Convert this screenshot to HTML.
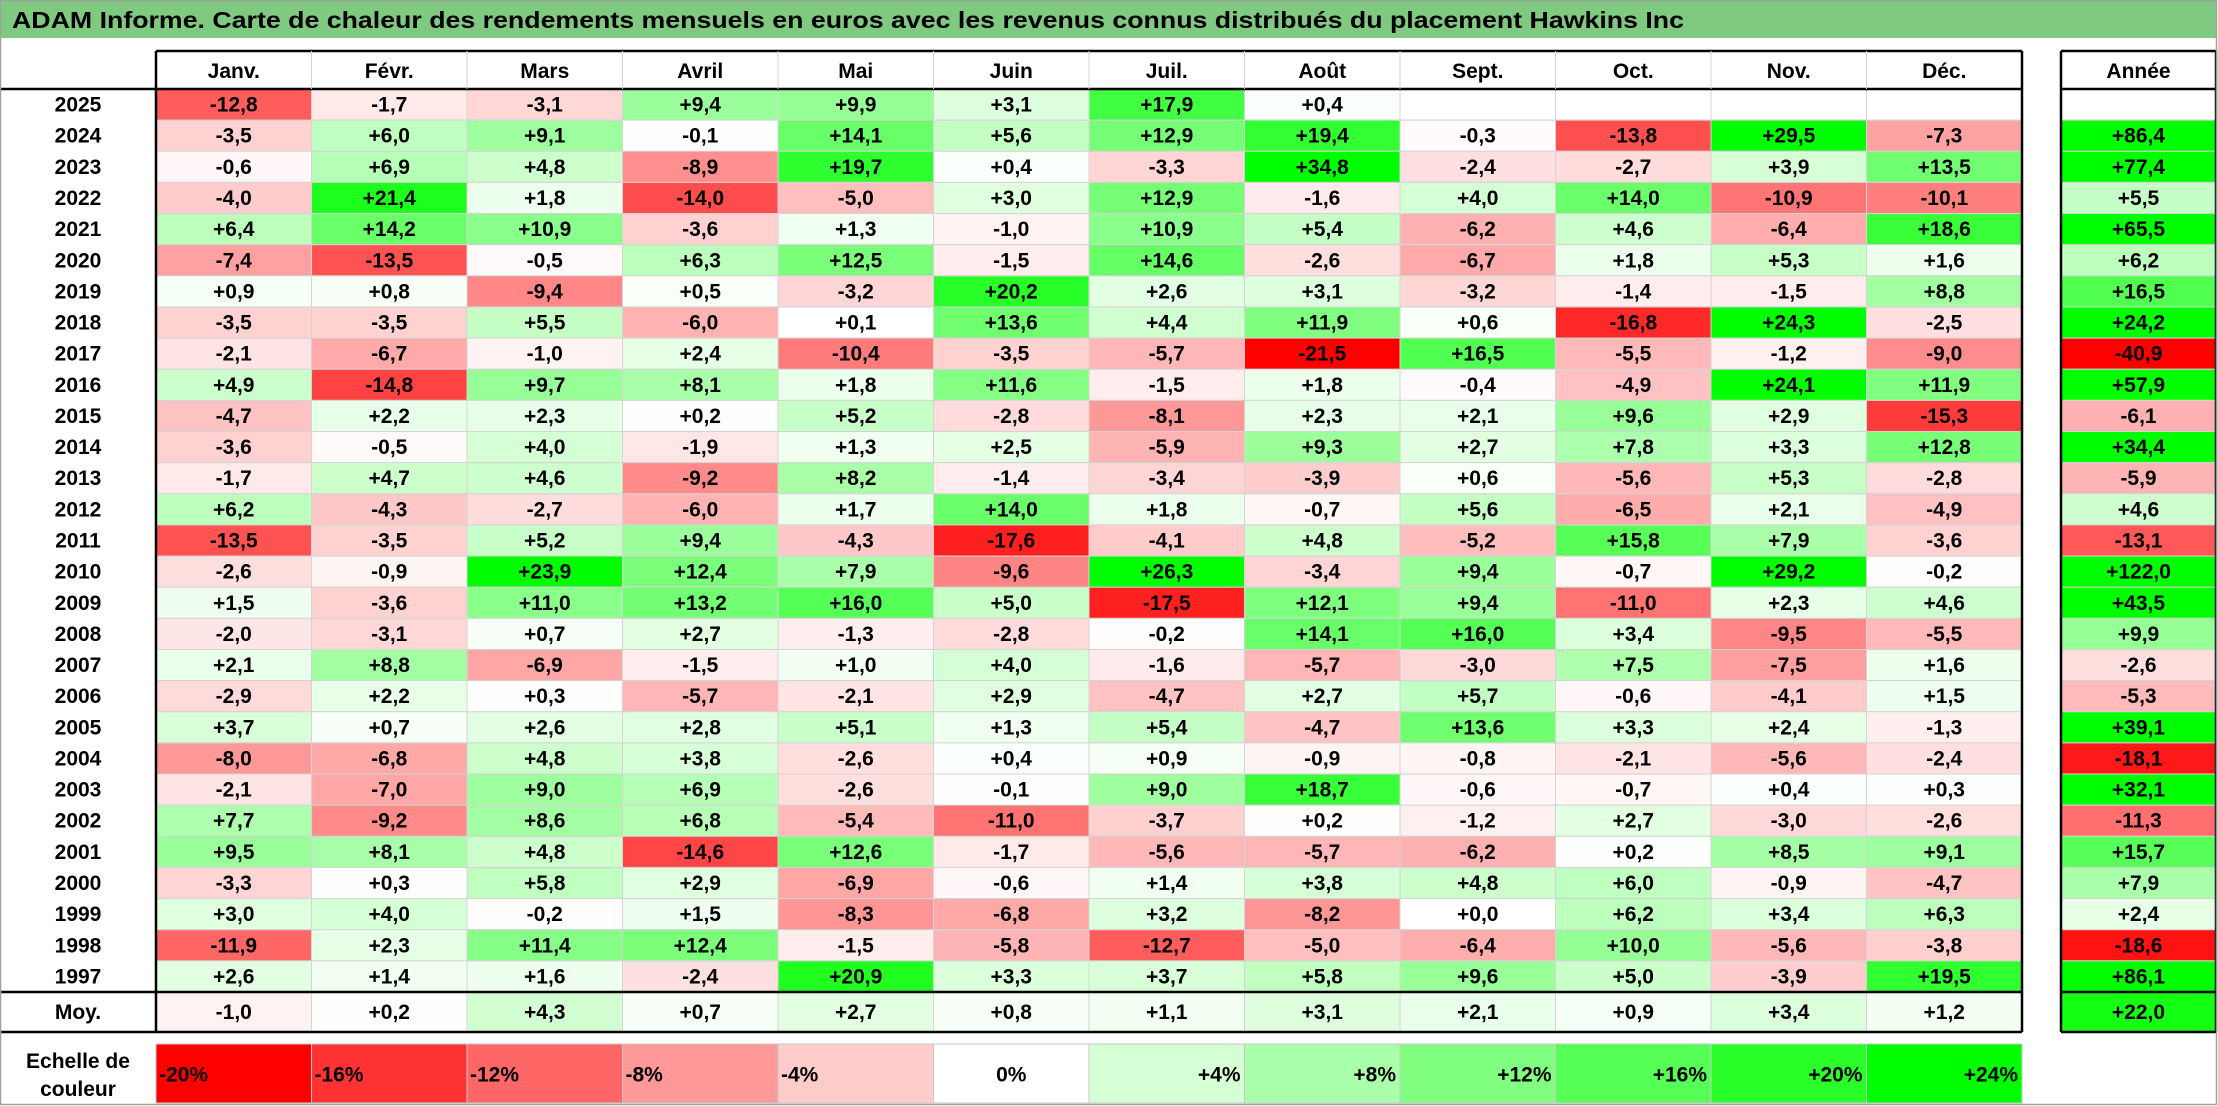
<!DOCTYPE html>
<html><head><meta charset="utf-8">
<style>
html,body{margin:0;padding:0;background:#fff;}
svg{display:block;}
text{font-family:"Liberation Sans",Arial,sans-serif;font-weight:bold;fill:#000;}
</style></head>
<body>
<svg id="chart" width="2218" height="1106" viewBox="0 0 2218 1106" xmlns="http://www.w3.org/2000/svg">
<rect x="0" y="0" width="2218" height="1106" fill="#fff"/>
<rect x="1" y="1" width="2215" height="37" fill="#80c980"/>
<text x="12" y="28" font-size="23" textLength="1672" lengthAdjust="spacingAndGlyphs">ADAM Informe. Carte de chaleur des rendements mensuels en euros avec les revenus connus distribués du placement Hawkins Inc</text>
<g id="cells"></g>
<g id="lines"></g>
<rect x="0.5" y="0.5" width="2216" height="1104" fill="none" stroke="#a0a0a0" stroke-width="1.5"/>
</svg>
<script>
const months = ["Janv.","Févr.","Mars","Avril","Mai","Juin","Juil.","Août","Sept.","Oct.","Nov.","Déc."];
const years = ["2025","2024","2023","2022","2021","2020","2019","2018","2017","2016","2015","2014","2013","2012","2011","2010","2009","2008","2007","2006","2005","2004","2003","2002","2001","2000","1999","1998","1997"];
const v2025 = [-12.8,-1.7,-3.1,9.4,9.9,3.1,17.9,0.4,null,null,null,null];
const v2024 = [-3.5,6.0,9.1,-0.1,14.1,5.6,12.9,19.4,-0.3,-13.8,29.5,-7.3];
const v2023 = [-0.6,6.9,4.8,-8.9,19.7,0.4,-3.3,34.8,-2.4,-2.7,3.9,13.5];
const v2022 = [-4.0,21.4,1.8,-14.0,-5.0,3.0,12.9,-1.6,4.0,14.0,-10.9,-10.1];
const v2021 = [6.4,14.2,10.9,-3.6,1.3,-1.0,10.9,5.4,-6.2,4.6,-6.4,18.6];
const v2020 = [-7.4,-13.5,-0.5,6.3,12.5,-1.5,14.6,-2.6,-6.7,1.8,5.3,1.6];
const v2019 = [0.9,0.8,-9.4,0.5,-3.2,20.2,2.6,3.1,-3.2,-1.4,-1.5,8.8];
const v2018 = [-3.5,-3.5,5.5,-6.0,0.1,13.6,4.4,11.9,0.6,-16.8,24.3,-2.5];
const v2017 = [-2.1,-6.7,-1.0,2.4,-10.4,-3.5,-5.7,-21.5,16.5,-5.5,-1.2,-9.0];
const v2016 = [4.9,-14.8,9.7,8.1,1.8,11.6,-1.5,1.8,-0.4,-4.9,24.1,11.9];
const v2015 = [-4.7,2.2,2.3,0.2,5.2,-2.8,-8.1,2.3,2.1,9.6,2.9,-15.3];
const v2014 = [-3.6,-0.5,4.0,-1.9,1.3,2.5,-5.9,9.3,2.7,7.8,3.3,12.8];
const v2013 = [-1.7,4.7,4.6,-9.2,8.2,-1.4,-3.4,-3.9,0.6,-5.6,5.3,-2.8];
const v2012 = [6.2,-4.3,-2.7,-6.0,1.7,14.0,1.8,-0.7,5.6,-6.5,2.1,-4.9];
const v2011 = [-13.5,-3.5,5.2,9.4,-4.3,-17.6,-4.1,4.8,-5.2,15.8,7.9,-3.6];
const v2010 = [-2.6,-0.9,23.9,12.4,7.9,-9.6,26.3,-3.4,9.4,-0.7,29.2,-0.2];
const v2009 = [1.5,-3.6,11.0,13.2,16.0,5.0,-17.5,12.1,9.4,-11.0,2.3,4.6];
const v2008 = [-2.0,-3.1,0.7,2.7,-1.3,-2.8,-0.2,14.1,16.0,3.4,-9.5,-5.5];
const v2007 = [2.1,8.8,-6.9,-1.5,1.0,4.0,-1.6,-5.7,-3.0,7.5,-7.5,1.6];
const v2006 = [-2.9,2.2,0.3,-5.7,-2.1,2.9,-4.7,2.7,5.7,-0.6,-4.1,1.5];
const v2005 = [3.7,0.7,2.6,2.8,5.1,1.3,5.4,-4.7,13.6,3.3,2.4,-1.3];
const v2004 = [-8.0,-6.8,4.8,3.8,-2.6,0.4,0.9,-0.9,-0.8,-2.1,-5.6,-2.4];
const v2003 = [-2.1,-7.0,9.0,6.9,-2.6,-0.1,9.0,18.7,-0.6,-0.7,0.4,0.3];
const v2002 = [7.7,-9.2,8.6,6.8,-5.4,-11.0,-3.7,0.2,-1.2,2.7,-3.0,-2.6];
const v2001 = [9.5,8.1,4.8,-14.6,12.6,-1.7,-5.6,-5.7,-6.2,0.2,8.5,9.1];
const v2000 = [-3.3,0.3,5.8,2.9,-6.9,-0.6,1.4,3.8,4.8,6.0,-0.9,-4.7];
const v1999 = [3.0,4.0,-0.2,1.5,-8.3,-6.8,3.2,-8.2,0.0,6.2,3.4,6.3];
const v1998 = [-11.9,2.3,11.4,12.4,-1.5,-5.8,-12.7,-5.0,-6.4,10.0,-5.6,-3.8];
const v1997 = [2.6,1.4,1.6,-2.4,20.9,3.3,3.7,5.8,9.6,5.0,-3.9,19.5];
const yearTotals = [null,86.4,77.4,5.5,65.5,6.2,16.5,24.2,-40.9,57.9,-6.1,34.4,-5.9,4.6,-13.1,122.0,43.5,9.9,-2.6,-5.3,39.1,-18.1,32.1,-11.3,15.7,7.9,2.4,-18.6,86.1];
const avgValues = [-1.0,0.2,4.3,0.7,2.7,0.8,1.1,3.1,2.1,0.9,3.4,1.2];
const avgTotal = 22.0;
const scaleValues = [-20,-16,-12,-8,-4,0,4,8,12,16,20,24];
const monthRows = [v2025,v2024,v2023,v2022,v2021,v2020,v2019,v2018,v2017,v2016,v2015,v2014,v2013,v2012,v2011,v2010,v2009,v2008,v2007,v2006,v2005,v2004,v2003,v2002,v2001,v2000,v1999,v1998,v1997];

const NS="http://www.w3.org/2000/svg";
const cells=document.getElementById('cells');
const lines=document.getElementById('lines');
const X0=156, CW=(2022-156)/12, YX=2061, YW=155;
const HY=51, RY=89, RH=(992-89)/29, MY=992, MH=40, SY=1044, SH=59;
const FS=21;
function colX(i){return X0+i*CW;}
function rowY(r){return RY+r*RH;}
function color(v){
  if(v===null) return '#ffffff';
  if(v<0){const t=Math.min(1,-v/20);const c=Math.round(255*(1-t));return `rgb(255,${c},${c})`;}
  const t=Math.min(1,v/24);const c=Math.round(255*(1-t));return `rgb(${c},255,${c})`;
}
function fmt(v){const s=Math.abs(v).toFixed(1).replace('.',',');return (v<0||Object.is(v,-0)?'-':'+')+s;}
function rect(x,y,w,h,fill,name,stroke){
  const r=document.createElementNS(NS,'rect');
  r.setAttribute('x',x);r.setAttribute('y',y);r.setAttribute('width',w);r.setAttribute('height',h);
  r.setAttribute('fill',fill);
  if(stroke){r.setAttribute('stroke',stroke);r.setAttribute('stroke-width','1');}
  
  
  cells.appendChild(r);return r;
}
function text(x,y,s,name,anchor,size){
  const t=document.createElementNS(NS,'text');
  t.setAttribute('x',x);t.setAttribute('y',y);t.setAttribute('font-size',size||FS);
  t.setAttribute('text-anchor',anchor||'middle');t.textContent=s;
  
  
  cells.appendChild(t);return t;
}
function line(x1,y1,x2,y2,col,w){
  const l=document.createElementNS(NS,'line');
  l.setAttribute('x1',x1);l.setAttribute('y1',y1);l.setAttribute('x2',x2);l.setAttribute('y2',y2);
  l.setAttribute('stroke',col);l.setAttribute('stroke-width',w);
  lines.appendChild(l);
}
// headers
months.forEach((m,i)=>{text(colX(i)+CW/2,HY+27,m,'month-header-'+(i+1));});
text(YX+YW/2,HY+27,'Année','year-total-header');
// data rows
monthRows.forEach((row,r)=>{
  const y=rowY(r);
  text(X0/2,y+RH/2+7,years[r],'year-label-'+years[r]);
  row.forEach((v,i)=>{
    rect(colX(i),y,CW,RH,color(v),'cell-'+years[r]+'-'+(i+1),'#d4d4d4');
    if(v!==null) text(colX(i)+CW/2,y+RH/2+7,fmt(v),'cell-value-'+years[r]+'-'+(i+1));
  });
  const tv=yearTotals[r];
  rect(YX,y,YW,RH,color(tv),'year-total-'+years[r],'#d4d4d4');
  if(tv!==null) text(YX+YW/2,y+RH/2+7,fmt(tv),'year-total-value-'+years[r]);
});
// averages
text(X0/2,MY+MH/2+7,'Moy.','average-label');
avgValues.forEach((v,i)=>{
  rect(colX(i),MY,CW,MH,color(v),'average-cell-'+(i+1),'#d4d4d4');
  text(colX(i)+CW/2,MY+MH/2+7,fmt(v),'average-value-'+(i+1));
});
rect(YX,MY,YW,MH,color(avgTotal),'average-year-total','#d4d4d4');
text(YX+YW/2,MY+MH/2+7,fmt(avgTotal),'average-year-total-value');
// scale
text(X0/2,SY+24,'Echelle de','color-scale-label-line1');
text(X0/2,SY+52,'couleur','color-scale-label-line2');
scaleValues.forEach((v,i)=>{
  rect(colX(i),SY,CW,SH,color(v),'color-scale-cell-'+(i+1),'#c8c8c8');
  const lab=(v>0?'+':'')+v+'%';
  if(v<0) text(colX(i)+3,SY+SH/2+8,lab,'color-scale-value-'+(i+1),'start');
  else if(v===0) text(colX(i)+CW/2,SY+SH/2+8,lab,'color-scale-value-'+(i+1),'middle');
  else text(colX(i)+CW-4,SY+SH/2+8,lab,'color-scale-value-'+(i+1),'end');
});
// borders
const B='#000', BW=2.5;
line(X0,HY,2022,HY,B,BW);
line(X0,HY,X0,MY+MH,B,BW);
line(2022,HY,2022,MY+MH,B,BW);
line(0,RY,2022,RY,B,BW);
line(0,MY,2022,MY,B,BW);
line(0,MY+MH,2022,MY+MH,B,BW);
for(let i=1;i<12;i++) line(colX(i),HY,colX(i),RY,'#d4d4d4',1);
line(YX,HY,YX,MY+MH,B,BW);
line(YX+YW,HY,YX+YW,MY+MH,B,BW);
line(YX,HY,YX+YW,HY,B,BW);
line(YX,RY,YX+YW,RY,B,BW);
line(YX,MY,YX+YW,MY,B,BW);
line(YX,MY+MH,YX+YW,MY+MH,B,BW);
</script>
</body></html>
